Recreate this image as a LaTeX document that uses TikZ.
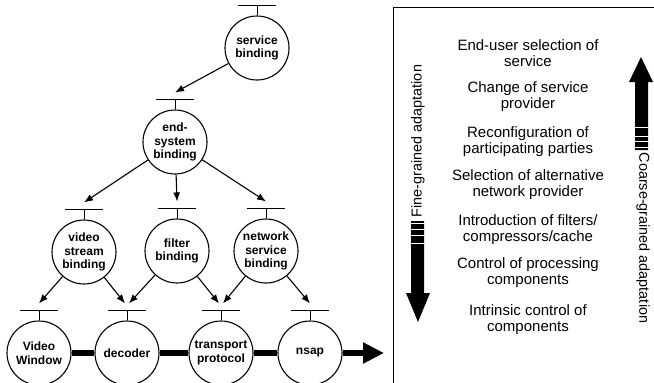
\documentclass[tikz,border=0pt]{standalone}
\usepackage{fontspec}
\setmainfont{Liberation Sans}
\usetikzlibrary{arrows.meta}
\tikzset{
  bnode/.style={draw,circle,line width=1.1pt,minimum size=64pt,inner sep=0pt,align=center,
    font=\fontsize{12}{13.8}\selectfont\bfseries},
  adapt/.style={align=center,font=\fontsize{15}{16}\selectfont},
  axislabel/.style={font=\fontsize{14.4}{16}\selectfont},
  link/.style={->,line width=1.1pt},
}

\begin{document}
\begin{tikzpicture}[line join=round,>={Latex[length=9pt,width=7pt]},x=1pt,y=-1pt]
	\useasboundingbox (0,0) rectangle (654,383);
	% binding hierarchy
	\node[bnode] (svc) at (257,48) {service\\binding};
	\node[bnode] (esys) at (175,142) {end-\\system\\binding};
	\node[bnode] (vsb) at (84,252) {video\\stream\\binding};
	\node[bnode] (fb) at (177,251) {filter\\binding};
	\node[bnode] (nsb) at (266,251) {network\\service\\binding};
	\node[bnode] (vw) at (39,353) {Video\\Window};
	\node[bnode] (dec) at (127,353) {decoder};
	\node[bnode] (tp) at (221,353) {transport\\protocol};
	\node[bnode] (nsap) at (310,353) {nsap};
	\foreach \n in {svc,esys,vsb,fb,nsb,vw,dec,tp,nsap}{
		\draw[line width=0.9pt] (\n.north) -- ++(0,-10) coordinate (\n-bar);
		\draw[line width=0.9pt] ([xshift=-19pt]\n-bar) -- ([xshift=19pt]\n-bar);
		\path (\n-bar) ++(0,-7) coordinate (\n-in);
	}
	\draw[link] (svc) -- (esys-in);
	\foreach \c in {vsb,fb,nsb}
	\draw[link] (esys) -- (\c-in);
	\draw[link] (vsb) -- (vw-in);
	\draw[link] (vsb) -- ([xshift=-2pt]dec-in);
	\draw[link] (fb) -- ([xshift=2pt]dec-in);
	\draw[link] (fb) -- ([xshift=-2pt]tp-in);
	\draw[link] (nsb) -- ([xshift=2pt]tp-in);
	\draw[link] (nsb) -- (nsap-in);
	% data path
	\coordinate (out) at (384,353);
	\draw[line width=5.5pt] (vw) -- (dec) (dec) -- (tp) (tp) -- (nsap);
	\draw[line width=5.5pt,-{Triangle[length=21pt,width=20pt]}] (nsap) -- (out);
	% adaptation panel
	\draw[line width=0.6pt] (393,383) -- (393,7) -- (654,7);
	\node[adapt] (l1) at (528,53) {End-user selection of\\service};
	\node[adapt] (l2) at (528,97) {Change of service\\provider};
	\node[adapt] (l3) at (528,141.5) {Reconfiguration of\\participating parties};
	\node[adapt] (l4) at (528,185) {Selection of alternative\\network provider};
	\node[adapt] (l5) at (528,230) {Introduction of filters/\\compressors/cache};
	\node[adapt] (l6) at (528,273) {Control of processing\\components};
	\node[adapt] (l7) at (528,320) {Intrinsic control of\\components};
	\node[axislabel,rotate=90] (fine) at (418,141) {Fine-grained adaptation};
	\node[axislabel,rotate=-90] (coarse) at (643,238) {Coarse-grained adaptation};
	\fill (411,221) -- (424,221) -- (424,293) -- (430,293) -- (418,322) -- (406,293) -- (411,293) -- cycle;
	\foreach \y in {223.5,229.5,235,243.5}
	\draw[white,line width=0.9pt] (410,\y) -- (425,\y);
	\fill (635,150) -- (648,150) -- (648,82) -- (653,82) -- (641,57) -- (629,82) -- (635,82) -- cycle;
	\foreach \y in {147.5,141.5,136,127.5}
	\draw[white,line width=0.9pt] (634,\y) -- (649,\y);
\end{tikzpicture}
\end{document}
